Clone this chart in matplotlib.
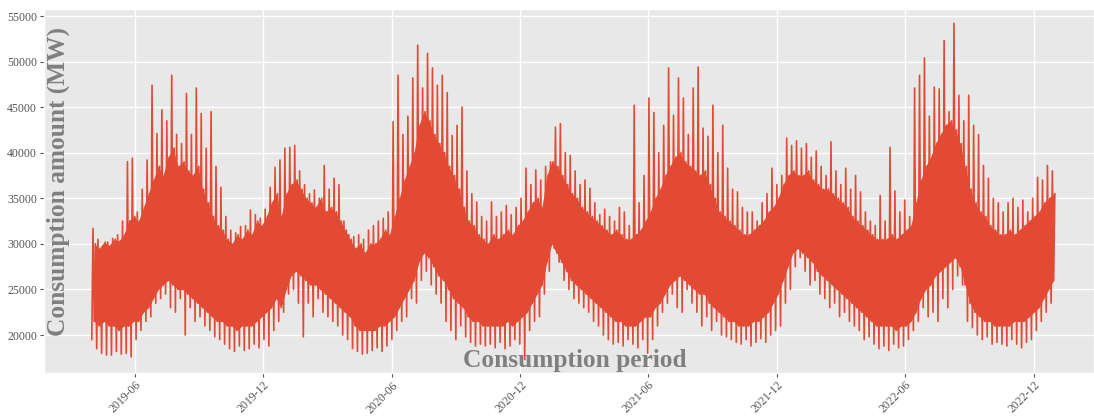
import numpy as np
import pandas as pd
import matplotlib
matplotlib.use("Agg")
import matplotlib.pyplot as plt
import matplotlib.dates as mdates

# ---------------------- Data -------------------
# one value per week, weeks starting 2019-04-01 (196 weeks), grouped by month

# highest spike of the week (MW)
weekly_peak = [
    31700, 30500, 29800, 30200, 30600,   # 2019-04
    31000, 32500, 39000, 39400,          # 2019-05
    33500, 36000, 39200, 47400,          # 2019-06
    42100, 44700, 43500, 48500, 42000,   # 2019-07
    41000, 46500, 42000, 47100,          # 2019-08
    44300, 40500, 44500, 38500, 36200,   # 2019-09
    33000, 31500, 31200, 31900,          # 2019-10
    32000, 33700, 33200, 32800,          # 2019-11
    33800, 36200, 38400, 39200, 40500,   # 2019-12
    40600, 40800, 38000, 36500,          # 2020-01
    35500, 35900, 35000, 38600,          # 2020-02
    36000, 37200, 36500, 32500, 31000,   # 2020-03
    30800, 31000, 30500, 31500,          # 2020-04
    32000, 32500, 32800, 33500,          # 2020-05
    43400, 48500, 42000, 44000, 48200,   # 2020-06
    51800, 47100, 50900, 49300,          # 2020-07
    47400, 48500, 46600, 41900, 43000,   # 2020-08
    45000, 38000, 35500, 34600,          # 2020-09
    33000, 32500, 34600, 33000,          # 2020-10
    33500, 34200, 33200, 34000, 35000,   # 2020-11
    38300, 36500, 38100, 37000,          # 2020-12
    38500, 39000, 42800, 43200,          # 2021-01
    40000, 39700, 38000, 36500,          # 2021-02
    37000, 36100, 34500, 33200, 33800,   # 2021-03
    33000, 32500, 34000, 33500,          # 2021-04
    32000, 45200, 34500, 37500, 46000,   # 2021-05
    44400, 40000, 43000, 49300,          # 2021-06
    44100, 48200, 46000, 42000,          # 2021-07
    47100, 49400, 42700, 41800, 45200,   # 2021-08
    40000, 43000, 38300, 36000,          # 2021-09
    35700, 34000, 33500, 33500,          # 2021-10
    32500, 34500, 35500, 38300, 36500,   # 2021-11
    37500, 41600, 40800, 41300,          # 2021-12
    40500, 41000, 39500, 40200, 38500,   # 2022-01
    37500, 41200, 38000, 36500,          # 2022-02
    38300, 36000, 37500, 35700,          # 2022-03
    33500, 32500, 32000, 35300,          # 2022-04
    32500, 40600, 35800, 33500, 34800,   # 2022-05
    33000, 47100, 48500, 50400,          # 2022-06
    44000, 47200, 47000, 52300,          # 2022-07
    44500, 54200, 46300, 43500, 46300,   # 2022-08
    43000, 42000, 38600, 37200,          # 2022-09
    35000, 34500, 33500, 34500, 35000,   # 2022-10
    34000, 34800, 33500, 35000,          # 2022-11
    37300, 37000, 38600, 38000,          # 2022-12
]

# deepest dip of the week (MW)
weekly_low = [
    19500, 18500, 18000, 17800, 17800,
    18200, 17900, 18000, 17600,
    19500, 20500, 21500, 22000,
    23500, 24000, 24500, 23000, 22500,
    24000, 20000, 23000, 21500,
    22000, 21000, 20500, 19800, 19500,
    19000, 18500, 18200, 18800,
    18300, 18500, 19000, 18600,
    19500, 18800, 20500, 21500, 22500,
    24500, 25000, 23500, 19800,
    23500, 22000, 24000, 22500,
    22000, 21500, 21000, 20000, 19500,
    18500, 18200, 17900, 18000,
    18300, 18600, 18200, 18800,
    19500, 20500, 21500, 22000, 24000,
    23500, 26000, 27000, 25500,
    24500, 23500, 21500, 20500, 19500,
    21000, 19800, 19200, 18800,
    19000, 18800, 19000, 18600,
    19200, 18500, 18800, 19500, 19000,
    17300, 20500, 21500, 22000,
    24500, 27000, 29500, 28000,
    26000, 25000, 24000, 23500,
    23000, 22500, 21500, 21000, 20000,
    19500, 19000, 19200, 18800,
    19500, 19000, 18600, 19500, 18000,
    19500, 21000, 22500, 23500,
    24500, 23000, 22500, 25000,
    23500, 22500, 21000, 22000, 20500,
    21500, 20000, 19800, 19500,
    19200, 19000, 19500, 18800,
    19200, 19600, 19200, 20000, 20500,
    21000, 23500, 25000, 27500,
    28500, 27000, 25500, 26000, 24500,
    24000, 23000, 23500, 22000,
    22500, 21500, 21000, 20500,
    19500, 19800, 19000, 18500,
    18800, 18300, 19000, 18600, 18800,
    19500, 20500, 21500, 23000,
    22000, 22500, 21500, 24000,
    23000, 25000, 26500, 25500, 21500,
    20800, 20000, 19500, 19800,
    19000, 19200, 19000, 18800, 19500,
    19000, 18600, 19200, 19500,
    20500, 21500, 22500, 23500,
]

# typical daily high of the week, top of the solid band (MW)
weekly_upper = [
    30000, 29500, 30200, 29800, 30500,
    30300, 31000, 32500, 33000,
    32500, 34000, 35500, 37000,
    38500, 37500, 39500, 40500, 38500,
    39000, 38000, 37500, 38500,
    36000, 34500, 33000, 32000, 31500,
    30500, 30000, 31000, 30500,
    31500, 31000, 32500, 32000,
    33000, 34500, 35500, 33000, 35500,
    36500, 37000, 36000, 35000,
    34500, 34000, 35000, 33500,
    34000, 33500, 32500, 31500, 30500,
    29500, 30000, 29000, 30000,
    30000, 30500, 31500, 31000,
    33000, 35000, 37000, 38500, 40000,
    43000, 44500, 43500, 42000,
    41000, 40000, 38500, 37500, 36000,
    34000, 32500, 32000, 31000,
    30500, 30000, 31000, 30500,
    31000, 31500, 31000, 32000, 32500,
    33500, 34500, 35000, 34000,
    37500, 39000, 38500, 37500,
    36500, 35500, 35000, 34000,
    33500, 33000, 32500, 32000, 31500,
    31000, 31500, 31000, 30500,
    30500, 31000, 31500, 32500, 33500,
    35000, 36000, 37500, 38500,
    39500, 40000, 39000, 38500,
    38000, 37500, 38000, 36500, 35000,
    33500, 33000, 32500, 32000,
    31500, 31000, 31000, 31500,
    32000, 32500, 33500, 34000, 35000,
    36500, 37500, 38000, 37500,
    37500, 38000, 37000, 36500, 36000,
    36000, 35500, 35000, 34500,
    34000, 33000, 32500, 32000,
    31500, 31000, 30500, 30500,
    30500, 31000, 30500, 31000, 31500,
    32000, 34500, 37000, 38500,
    39500, 41000, 42000, 43000,
    43500, 42500, 41000, 38500, 36000,
    34500, 33500, 33000, 32000,
    31500, 31000, 31000, 31500, 31000,
    31500, 32000, 32500, 33000,
    33500, 34500, 35000, 35500,
]

# typical daily low of the week, bottom of the solid band (MW)
weekly_lower = [
    21500, 21000, 21500, 21000, 21000,
    20500, 21000, 21000, 21500,
    21500, 22500, 23000, 24000,
    25000, 25500, 26000, 25500, 25000,
    25000, 24500, 24000, 23500,
    23000, 22500, 22000, 21500, 21500,
    21000, 21000, 20500, 21000,
    21000, 21000, 21500, 22000,
    22500, 23000, 24000, 23000, 25000,
    26500, 27000, 26500, 26000,
    25500, 25500, 25000, 24500,
    24000, 23500, 23000, 22500, 22000,
    21000, 20500, 20500, 20500,
    20500, 21000, 21000, 21500,
    22000, 23000, 24000, 25000, 26000,
    28000, 29000, 28500, 27500,
    26500, 26000, 25000, 24000, 23500,
    23000, 22000, 21500, 21500,
    21000, 21000, 21000, 21000,
    21000, 21500, 21000, 21500, 22000,
    22500, 23500, 24500, 25500,
    28000, 30000, 29000, 28000,
    27000, 26000, 25500, 25000,
    24500, 24000, 23500, 23000, 22500,
    22000, 21500, 21500, 21000,
    21000, 21000, 21500, 22000, 22000,
    23000, 23500, 24500, 25500,
    26000, 26500, 26000, 25500,
    25000, 24500, 24500, 23500, 23000,
    22500, 22000, 21500, 21500,
    21000, 21000, 21000, 21500,
    21500, 22000, 22500, 23500, 24500,
    26000, 27500, 29000, 29500,
    29000, 28500, 28000, 27000, 26500,
    26000, 25500, 25000, 24500,
    24000, 23500, 23000, 22500,
    22000, 21500, 21000, 21000,
    21000, 21000, 20500, 21000, 21000,
    21500, 22500, 24000, 25000,
    25500, 26500, 27000, 27500,
    28000, 28500, 27500, 25500, 23500,
    22500, 22000, 21500, 21500,
    21000, 21000, 21000, 21000, 21500,
    21500, 21500, 22000, 22500,
    23000, 24000, 25000, 26000,
]

week_start = pd.date_range("2019-04-01", periods=len(weekly_peak), freq="7D")

# four swings per week: deep dip -> spike -> daily low -> daily high
n = len(week_start)
line_x = np.empty(4 * n, dtype="datetime64[ns]")
line_y = np.empty(4 * n)
for k, vals in enumerate([weekly_low, weekly_peak, weekly_lower, weekly_upper]):
    line_x[k::4] = (week_start + pd.Timedelta(hours=42 * k)).values
    line_y[k::4] = vals

# ---------------------- Plot -------------------

plt.style.use("ggplot")
plt.rcParams["font.family"] = ["Liberation Serif", "DejaVu Serif"]

RED = "#E24A33"

fig = plt.figure(figsize=(10.94, 4.16), dpi=100)
ax = fig.add_axes([0.0402, 0.1034, 0.9598, 0.875])
ax.set_facecolor("#E8E8E8")

# solid body of the curve, then the swinging line on top
ax.fill_between(week_start + pd.Timedelta(hours=84), weekly_lower, weekly_upper,
                color=RED, lw=0)
ax.plot(line_x, line_y, color=RED, lw=1.2)

ax.set_xlim(pd.Timestamp("2019-01-23"), pd.Timestamp("2023-02-25"))
ax.set_ylim(15833, 55770)
ax.set_yticks(range(20000, 55001, 5000))
ax.xaxis.set_major_locator(mdates.MonthLocator(bymonth=[6, 12]))
ax.xaxis.set_major_formatter(mdates.DateFormatter("%Y-%m"))
ax.tick_params(axis="y", labelsize=8.5, colors="#555555", length=3, pad=2)
ax.tick_params(axis="x", labelsize=8.5, colors="#555555", length=3, pad=1.5)
plt.setp(ax.get_xticklabels(), rotation=45, ha="right", rotation_mode="anchor")
ax.grid(True, color="white", lw=1)

ax.text(0.014, 0.525, "Consumption amount (MW)", transform=ax.transAxes, rotation=90,
        ha="center", va="center", fontsize=18.3, fontweight="bold", color="#7f7f7f")
ax.text(0.506, 0.035, "Consumption period", transform=ax.transAxes,
        ha="center", va="center", fontsize=18.3, fontweight="bold", color="#7f7f7f")

fig.savefig("out.png", dpi=100)
